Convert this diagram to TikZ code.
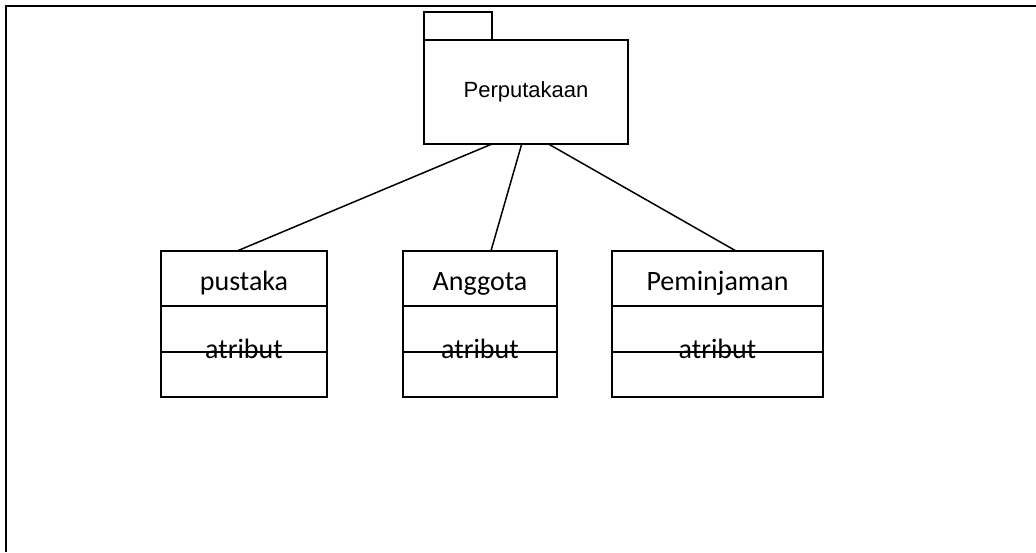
\documentclass[tikz,border=0pt]{standalone}
\usepackage{fontspec}
\setmainfont{Carlito}
\newfontfamily\pkgfont{Liberation Sans}
\usetikzlibrary{calc}
\begin{document}
\begin{tikzpicture}[x=1pt,y=-1pt,
  frameline/.style={line width=2pt},
  box/.style={draw,line width=1.6pt,inner sep=0pt,outer sep=0pt},
  cls/.style={box,minimum height=146pt},
  lbl/.style={font=\fontsize{28}{30}\selectfont,inner sep=0pt,anchor=base},
  link/.style={line width=1.5pt}]
\useasboundingbox (0,0) rectangle (1036,552);

% page frame (top and left edges)
\draw[frameline] (1036,6) -- (6,6) -- (6,552);

% package Perputakaan
\node[box,minimum width=204pt,minimum height=104pt] (pkg) at (526,92) {};
\node[box,anchor=south west,minimum width=68pt,minimum height=28pt] (tab) at (pkg.north west) {};
\node[font=\pkgfont\fontsize{22}{24}\selectfont,inner sep=0pt,anchor=base] (pkgname) at (526,97) {Perputakaan};

% classes
\node[cls,minimum width=166pt] (pus) at (244,324) {};
\node[cls,minimum width=154pt] (ang) at (480,324) {};
\node[cls,minimum width=211pt] (pem) at (717.5,324) {};

\foreach \c/\t in {pus/pustaka,ang/Anggota,pem/Peminjaman}{
  \draw[line width=1.6pt] (\c.west |- 0,306) -- (\c.east |- 0,306);
  \draw[line width=1.6pt] (\c.west |- 0,352) -- (\c.east |- 0,352);
  \node[lbl] (\c-name) at (\c.center |- 0,290) {\t};
  \node[lbl] (\c-attr) at (\c.center |- 0,358) {atribut};
}

% associations from the package to each class
\coordinate (p1) at ($(pkg.south west)!0.333!(pkg.south east)$);
\coordinate (p2) at ($(pkg.south west)!0.479!(pkg.south east)$);
\coordinate (p3) at ($(pkg.south west)!0.610!(pkg.south east)$);
\coordinate (c1) at ($(pus.north west)!0.458!(pus.north east)$);
\coordinate (c2) at ($(ang.north west)!0.571!(ang.north east)$);
\coordinate (c3) at ($(pem.north west)!0.588!(pem.north east)$);
\draw[link] (p1) -- (c1);
\draw[link] (p2) -- (c2);
\draw[link] (p3) -- (c3);
\end{tikzpicture}
\end{document}
